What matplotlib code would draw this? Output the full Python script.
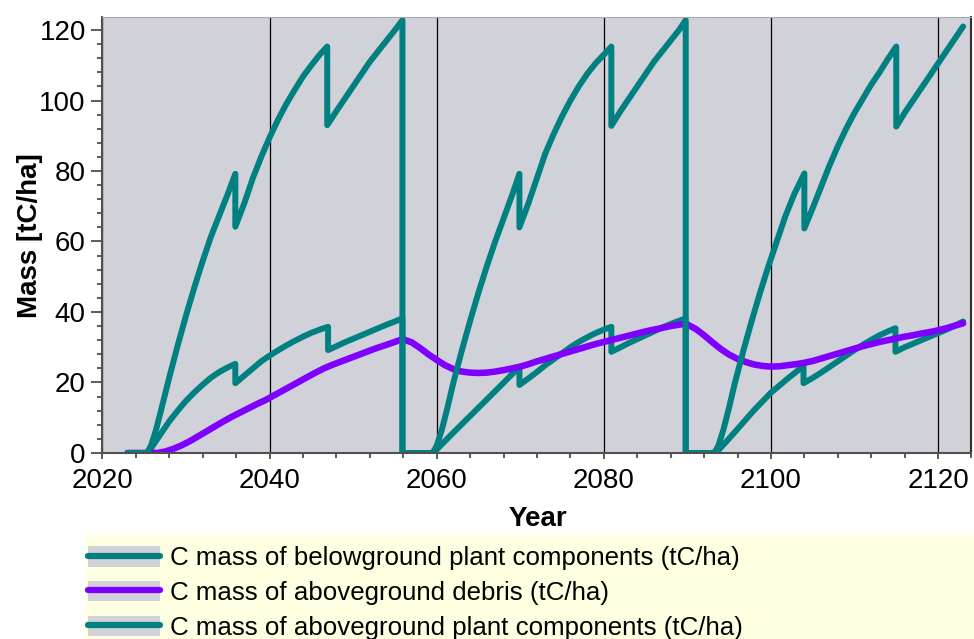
import matplotlib
matplotlib.use("Agg")
from matplotlib import pyplot as plt
from matplotlib.lines import Line2D
from matplotlib.patches import Patch, Rectangle
from matplotlib.legend_handler import HandlerTuple
from matplotlib.ticker import MultipleLocator

# Carbon pools over three rotations (clear-cut ~2056 and ~2090, thinnings in between)
years_below = [2023, 2025.5, 2026, 2027, 2028, 2029, 2030, 2031, 2032, 2033, 2034, 2035, 2035.9,
               2035.9, 2037, 2038, 2039, 2040, 2041, 2042, 2043, 2044, 2045, 2046, 2047,
               2047, 2048, 2049, 2050, 2051, 2052, 2053, 2054, 2055, 2055.9,
               2055.9, 2059.6, 2060.5, 2062, 2064, 2066, 2068, 2069.9,
               2069.9, 2071, 2072, 2073, 2074, 2075, 2076, 2077, 2078, 2079, 2080, 2080.9,
               2080.9, 2082, 2083, 2084, 2085, 2086, 2087, 2088, 2089, 2089.8,
               2089.8, 2093.4, 2094.5, 2096, 2098, 2100, 2102, 2103.9,
               2103.9, 2105, 2106, 2107, 2108, 2109, 2110, 2111, 2112, 2113, 2114, 2114.9,
               2114.9, 2116, 2117, 2118, 2119, 2120, 2121, 2122, 2123]
below = [0, 0, 2.0, 5.5, 9.0, 12.0, 14.8, 17.2, 19.4, 21.4, 23.0, 24.3, 25.3,
         19.8, 22.0, 24.0, 26.0, 27.6, 29.1, 30.5, 31.8, 33.0, 34.1, 35.0, 35.8,
         29.2, 30.3, 31.4, 32.4, 33.4, 34.4, 35.4, 36.4, 37.3, 38.2,
         0, 0, 2.2, 5.8, 10.5, 15.2, 19.9, 24.5,
         19.3, 21.2, 23.0, 24.9, 26.6, 28.3, 30.0, 31.5, 32.8, 34.0, 35.0, 35.8,
         28.7, 30.0, 31.2, 32.3, 33.4, 34.5, 35.6, 36.6, 37.5, 38.2,
         0, 0, 2.8, 6.8, 12.2, 17.1, 21.1, 24.7,
         19.8, 21.3, 22.8, 24.4, 26.0, 27.6, 29.2, 30.7, 32.1, 33.4, 34.5, 35.4,
         28.7, 30.0, 31.0, 32.0, 33.0, 34.0, 35.0, 36.1, 37.3]

years_debris = [2023, 2026.5, 2027.5, 2028.5, 2029.5, 2030.5, 2031.5, 2032.5, 2033.5, 2034.5,
                2035.5, 2036.5, 2037.5, 2038.5, 2039.5, 2040.5, 2041.5, 2042.5, 2043.5, 2044.5,
                2045.5, 2046.5, 2047.5, 2048.5, 2049.5, 2050.5, 2051.5, 2052.5, 2053.5, 2054.5,
                2055.9, 2057, 2058, 2059, 2060, 2061, 2062, 2063, 2064, 2065,
                2066, 2067, 2068, 2069, 2070, 2071, 2072, 2073, 2074, 2075,
                2076, 2077, 2078, 2079, 2080, 2081, 2082, 2083, 2084, 2085,
                2086, 2087, 2088, 2089, 2089.8, 2091, 2092, 2093, 2094, 2095,
                2096, 2097, 2098, 2099, 2100, 2101, 2102, 2103, 2104, 2105,
                2106, 2107, 2108, 2109, 2110, 2111, 2112, 2113, 2114, 2115,
                2116, 2117, 2118, 2119, 2120, 2121, 2122, 2123]
debris = [0, 0, 0.4, 1.2, 2.2, 3.4, 4.8, 6.2, 7.6, 9.0,
          10.3, 11.5, 12.7, 13.9, 15.0, 16.3, 17.6, 18.9, 20.2, 21.5,
          22.8, 24.0, 25.0, 25.9, 26.8, 27.7, 28.6, 29.5, 30.3, 31.1,
          32.3, 31.4, 29.8, 28.0, 26.4, 24.9, 23.8, 23.1, 22.8, 22.7,
          22.8, 23.1, 23.5, 24.0, 24.5, 25.2, 26.0, 26.7, 27.4, 28.1,
          28.8, 29.5, 30.2, 30.9, 31.5, 32.1, 32.7, 33.3, 33.9, 34.5,
          35.0, 35.5, 36.0, 36.4, 36.7, 35.2, 33.4, 31.4, 29.5, 27.9,
          26.7, 25.8, 25.1, 24.7, 24.5, 24.6, 24.9, 25.2, 25.6, 26.1,
          26.8, 27.5, 28.2, 28.9, 29.6, 30.3, 30.9, 31.5, 32.0, 32.5,
          33.0, 33.4, 33.9, 34.3, 34.8, 35.4, 36.1, 36.8]

years_above = [2023, 2025.3, 2025.8, 2026.4, 2027, 2028, 2029, 2030, 2031, 2032, 2033, 2034, 2035, 2035.9,
               2035.9, 2037, 2038, 2039, 2040, 2041, 2042, 2043, 2044, 2045, 2046, 2046.9,
               2046.9, 2048, 2049, 2050, 2051, 2052, 2053, 2054, 2055, 2055.9,
               2055.9, 2059.5, 2060, 2060.6, 2061.2, 2062, 2063, 2064, 2065, 2066, 2067, 2068, 2069, 2069.9,
               2069.9, 2071, 2072, 2073, 2074, 2075, 2076, 2077, 2078, 2079, 2080, 2080.9,
               2080.9, 2082, 2083, 2084, 2085, 2086, 2087, 2088, 2089, 2089.8,
               2089.8, 2093.2, 2093.7, 2094.3, 2094.9, 2095.7, 2096.7, 2097.7, 2098.7, 2099.7, 2100.7,
               2101.7, 2102.8, 2104,
               2104, 2105, 2106, 2107, 2108, 2109, 2110, 2111, 2112, 2113, 2114, 2115,
               2115, 2116, 2117, 2118, 2119, 2120, 2121, 2122, 2123]
above = [0, 0, 2.0, 6.5, 12.0, 21.5, 30.5, 39.0, 47.0, 54.5, 61.5, 67.5, 73.5, 79.2,
         64.2, 71.0, 78.0, 84.0, 89.5, 94.5, 99.0, 103.0, 106.8, 110.0, 113.0, 115.3,
         93.0, 97.0, 100.5, 104.0, 107.5, 111.0, 114.0, 117.0, 120.0, 122.8,
         0, 0, 2.0, 6.5, 12.0, 20.0, 29.0, 37.5, 45.5, 53.0, 60.0, 66.5, 73.0, 79.2,
         64.0, 71.0, 78.0, 85.0, 90.5, 95.5, 100.0, 104.0, 107.5, 110.5, 113.0, 115.3,
         92.8, 97.0, 100.5, 104.0, 107.5, 111.0, 114.0, 117.0, 120.0, 122.8,
         0, 0, 2.0, 6.5, 12.0, 20.0, 29.0, 37.5, 45.5, 53.0, 60.0,
         67.0, 73.5, 79.3,
         63.7, 69.5, 75.5, 81.5, 87.0, 92.0, 96.5, 100.5, 104.5, 108.0, 111.8, 115.3,
         92.6, 96.5, 100.0, 103.5, 107.0, 110.5, 114.0, 117.5, 121.0]

labels = ["C mass of belowground plant components (tC/ha)",
          "C mass of aboveground debris (tC/ha)",
          "C mass of aboveground plant components (tC/ha)"]

teal = "#008080"
purple = "#8000ff"
panel = "#d1d2d9"

plt.rcParams["font.family"] = ["Liberation Sans", "DejaVu Sans"]

fig = plt.figure(figsize=(9.74, 6.39), dpi=100)
ax = fig.add_axes([0.1052, 0.2911, 0.8922, 0.6818])
ax.set_facecolor(panel)

line_kw = dict(solid_capstyle="round", solid_joinstyle="round")
ax.plot(years_below, below, color=teal, lw=4.3, **line_kw)
ax.plot(years_debris, debris, color=purple, lw=4.7, **line_kw)
ax.plot(years_above, above, color=teal, lw=4.3, **line_kw)

ax.set_xlim(2020, 2124)
ax.set_ylim(0, 123.6)
ax.xaxis.set_major_locator(MultipleLocator(20))
ax.xaxis.set_minor_locator(MultipleLocator(4))
ax.yaxis.set_major_locator(MultipleLocator(20))
ax.yaxis.set_minor_locator(MultipleLocator(4))
ax.grid(axis="x", which="major", color="black", lw=0.9)
ax.set_axisbelow(True)

ax.tick_params(axis="both", which="both", direction="out", colors="#404040",
               labelcolor="black", labelsize=20, width=1.2)
ax.tick_params(axis="y", which="major", length=8, pad=4)
ax.tick_params(axis="y", which="minor", length=3.5)
ax.tick_params(axis="x", which="major", length=4.5, pad=6)
ax.tick_params(axis="x", which="minor", length=3.5)

for side in ["left", "bottom"]:
    ax.spines[side].set_color("#505050")
    ax.spines[side].set_linewidth(1.5)
ax.spines["top"].set_color("#a8a8a8")
ax.spines["right"].set_color("#303030")
ax.spines["right"].set_linewidth(1.5)

ax.set_xlabel("Year", fontsize=20, fontweight="bold")
ax.set_ylabel("Mass [tC/ha]", fontsize=20, fontweight="bold")
ax.xaxis.set_label_coords(0.501, -0.151)
ax.xaxis.label.set_va("center")
ax.yaxis.set_label_coords(-0.0834, 0.5)
ax.yaxis.label.set_va("center")

# pale yellow legend panel running off the bottom right of the figure
fig.patches.append(Rectangle((85 / 974, 0), 1.0, 1 - 535 / 639, transform=fig.transFigure,
                             facecolor="#ffffe1", edgecolor="none", zorder=0))

# legend: grey swatch with the series line drawn over it
handles = []
for c in [teal, purple, teal]:
    handles.append((Patch(facecolor=panel, edgecolor="none"),
                    Line2D([], [], color=c, lw=4.5, solid_capstyle="round")))
fig.legend(handles, labels, handler_map={tuple: HandlerTuple(ndivide=1, pad=0)},
           loc="upper left", bbox_to_anchor=(88 / 974, 1 - 546 / 639),
           fontsize=18.6, frameon=False, borderpad=0, borderaxespad=0,
           handlelength=2.8, handleheight=0.85, handletextpad=0.39, labelspacing=0.41)

fig.savefig("out.png", dpi=100)
